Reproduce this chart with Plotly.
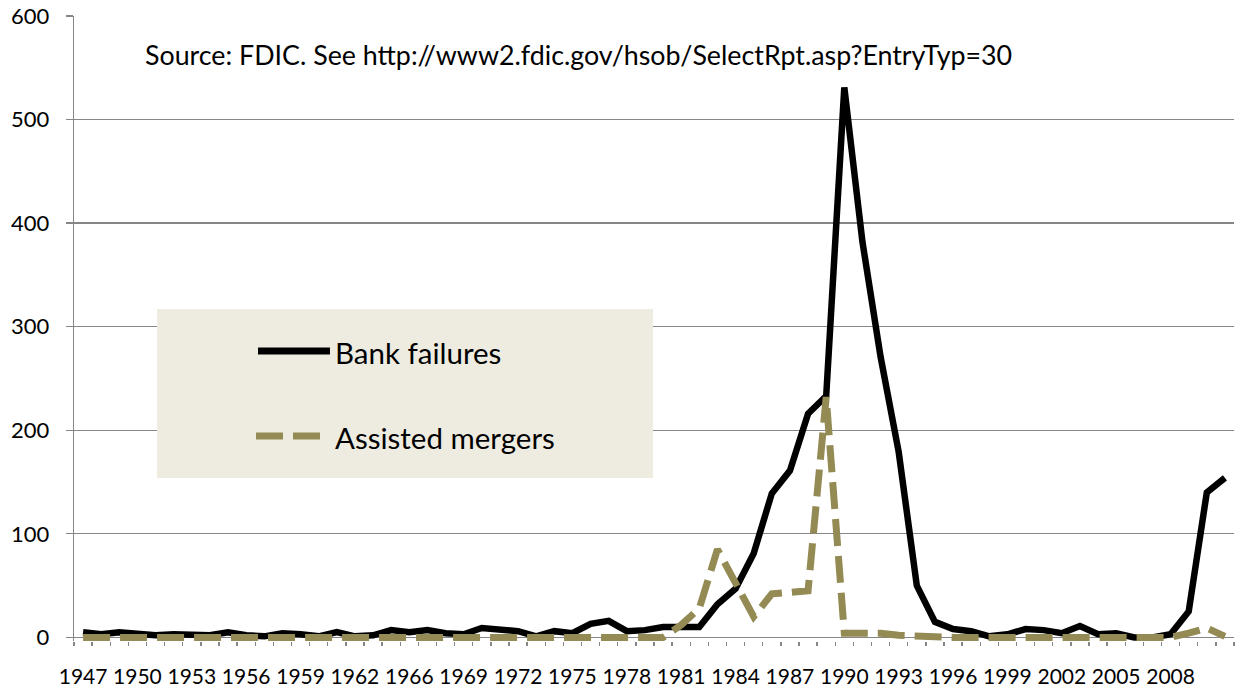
import plotly.graph_objects as go

# Category labels as they appear in the source sheet (1963 absent from the label column)
categories = [str(y) for y in range(1947, 1963)] + [str(y) for y in range(1964, 2012)]

bank_failures = [
    5, 3, 5, 4, 2, 3, 2, 2, 5, 2,
    1, 4, 3, 1, 5, 1, 2, 7, 5, 7,
    4, 3, 9, 7, 6, 1, 6, 4, 13, 16,
    6, 7, 10, 10, 10, 32, 47, 81, 139, 161,
    216, 233, 531, 382, 271, 179, 50, 15, 8, 6,
    1, 3, 8, 7, 4, 11, 3, 4, 0, 0,
    3, 25, 140, 154,
]

assisted_mergers = [
    0, 0, 0, 0, 0, 0, 0, 0, 0, 0,
    0, 0, 0, 0, 0, 0, 0, 0, 0, 0,
    0, 0, 0, 0, 0, 0, 0, 0, 0, 0,
    0, 0, 0, 12, 28, 85, 52, 20, 42, 43,
    45, 232, 4, 4, 4, 2, 1, 0, 0, 0,
    0, 0, 0, 0, 0, 0, 0, 0, 0, 0,
    0, 4, 9, 1,
]

# Tick labels shown on the x axis
tick_labels = ["1947", "1950", "1953", "1956", "1959", "1962", "1966", "1969", "1972",
               "1975", "1978", "1981", "1984", "1987", "1990", "1993", "1996", "1999",
               "2002", "2005", "2008"]

series_names = ["Bank failures", "Assisted mergers"]
source_text = "Source: FDIC. See http://www2.fdic.gov/hsob/SelectRpt.asp?EntryTyp=30"

BLACK = "#000000"
GOLD = "#948A54"
GRID = "#868686"
BOX = "#EEECE1"
DASH = "27px,10px"
FONT = "Lato"

W, H = 1241, 698
ML, MR, MT, MB = 74, 7, 16, 57
PW = W - ML - MR
PH = H - MT - MB


def px(xs):
    """pixel x -> paper x"""
    return (xs - ML) / PW


def py(ys):
    """pixel y -> paper y"""
    return (H - MB - ys) / PH


tick_text = [c if c in tick_labels else "" for c in categories]

fig = go.Figure()
fig.add_trace(go.Scatter(
    x=categories, y=bank_failures, mode="lines", name=series_names[0],
    line=dict(color=BLACK, width=6.5), showlegend=False,
))
fig.add_trace(go.Scatter(
    x=categories, y=assisted_mergers, mode="lines", name=series_names[1],
    line=dict(color=GOLD, width=7, dash=DASH), showlegend=False,
))

fig.update_layout(
    width=W, height=H, autosize=False,
    margin=dict(l=ML, r=MR, t=MT, b=MB, pad=0, autoexpand=False),
    paper_bgcolor="white", plot_bgcolor="white",
    font=dict(family=FONT, size=20, color="#000000"),
    showlegend=False,
)

fig.update_xaxes(
    type="category", range=[-0.5, len(categories) - 0.5], automargin=False,
    tickmode="array", tickvals=categories, ticktext=tick_text,
    tickson="boundaries", ticks="outside", ticklen=4, tickwidth=1.3, tickcolor=GRID,
    showline=False, showgrid=False, tickangle=0, ticklabelstandoff=21,
    tickfont=dict(family=FONT, size=21, color="#000000"),
)
fig.update_yaxes(
    range=[-3.5, 600], tick0=0, dtick=100, automargin=False,
    showgrid=True, gridcolor=GRID, gridwidth=1.3,
    zeroline=True, zerolinecolor=GRID, zerolinewidth=1.3,
    showline=True, linecolor=GRID, linewidth=1.3,
    ticks="outside", ticklen=7, tickwidth=1.3, tickcolor=GRID,
    ticklabelstandoff=12, ticklabeloverflow="allow",
    tickfont=dict(family=FONT, size=22, color="#000000"),
)

# Source note
fig.add_annotation(
    xref="paper", yref="paper", x=px(143), y=py(55), xanchor="left", yanchor="middle",
    text=source_text, showarrow=False, font=dict(family=FONT, size=26.8, color="#000000"),
)

# Legend box
fig.add_shape(type="rect", xref="paper", yref="paper",
              x0=px(157), x1=px(653), y0=py(478), y1=py(309),
              fillcolor=BOX, line=dict(width=0), layer="above")
fig.add_shape(type="line", xref="paper", yref="paper",
              x0=px(258), x1=px(330), y0=py(351), y1=py(351),
              line=dict(color=BLACK, width=7), layer="above")
fig.add_shape(type="line", xref="paper", yref="paper",
              x0=px(256), x1=px(320), y0=py(436), y1=py(436),
              line=dict(color=GOLD, width=7, dash=DASH), layer="above")
fig.add_annotation(xref="paper", yref="paper", x=px(333), y=py(352), xanchor="left", yanchor="middle",
                   text=series_names[0], showarrow=False,
                   font=dict(family=FONT, size=29.5, color="#000000"))
fig.add_annotation(xref="paper", yref="paper", x=px(333), y=py(437), xanchor="left", yanchor="middle",
                   text=series_names[1], showarrow=False,
                   font=dict(family=FONT, size=29.5, color="#000000"))

# Remove the default 8px page margin so the figure fills the window exactly
fig.write_html(
    "out.html",
    config={"displayModeBar": False, "staticPlot": True},
    post_script="document.body.style.margin='0px';",
)
